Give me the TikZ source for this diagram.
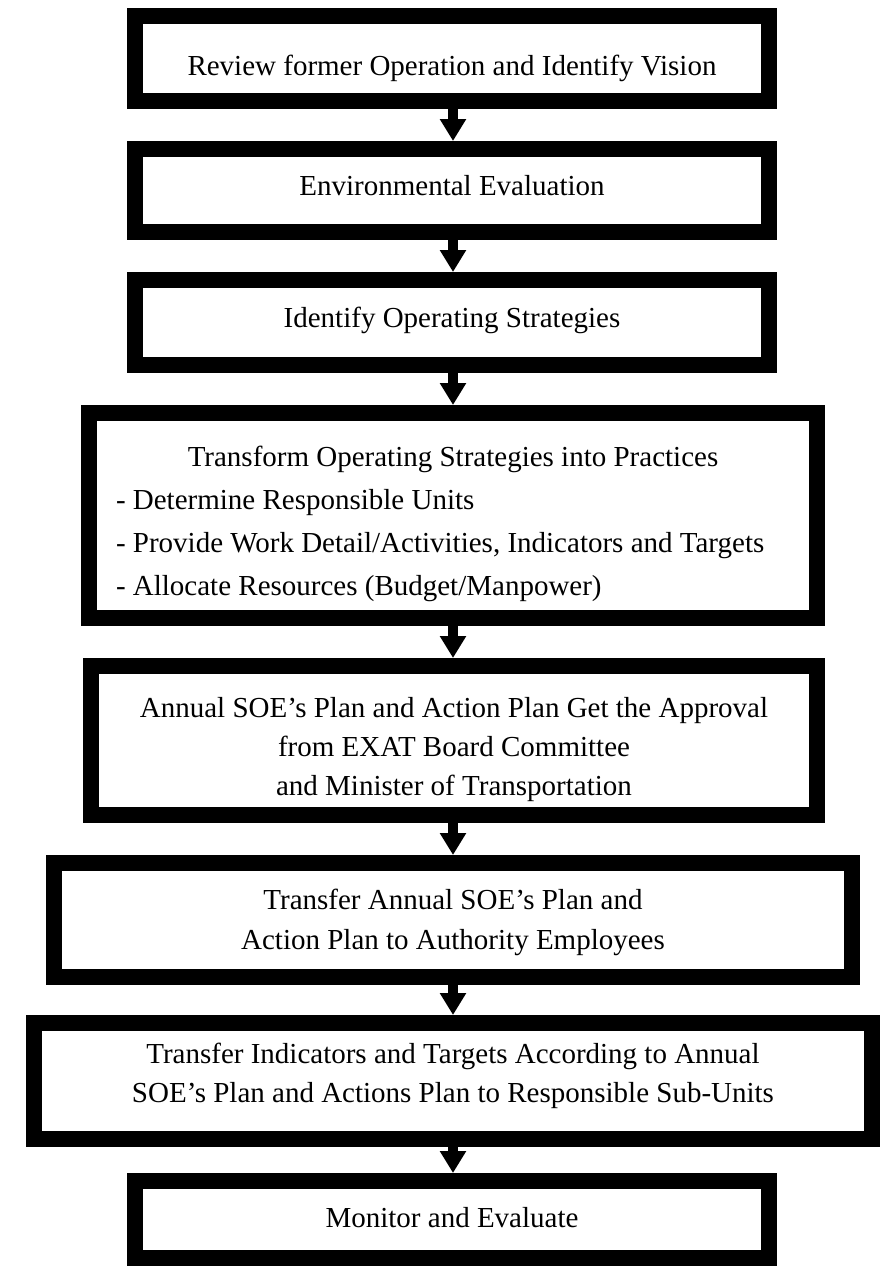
\documentclass[tikz,border=0pt]{standalone}
\usepackage{fontspec}
\setmainfont{Liberation Serif}
\usetikzlibrary{arrows.meta}
\begin{document}
\begin{tikzpicture}[x=1pt,y=1pt,
  stepbox/.style={draw=black, line width=16pt, fill=white, rectangle, inner sep=0pt},
  steptext/.style={anchor=base, inner sep=0pt},
  flow/.style={line width=10pt, -{Triangle[width=25pt,length=22pt]}}]
\useasboundingbox[fill=white] (0,0) rectangle (882,-1267);

% frames of the process steps (minimum size = outer size minus the border width)
\node[stepbox, minimum width=634, minimum height=85]  (b1) at (452,-58.5)  {};
\node[stepbox, minimum width=634, minimum height=83]  (b2) at (452,-190.5) {};
\node[stepbox, minimum width=634, minimum height=85]  (b3) at (452,-322.5) {};
\node[stepbox, minimum width=728, minimum height=205] (b4) at (453,-515.5) {};
\node[stepbox, minimum width=726, minimum height=149] (b5) at (454,-740.5) {};
\node[stepbox, minimum width=798, minimum height=114] (b6) at (453,-920)   {};
\node[stepbox, minimum width=838, minimum height=116] (b7) at (453,-1081)  {};
\node[stepbox, minimum width=634, minimum height=77]  (b8) at (452,-1219.5){};

% step texts, placed on the baseline of their first line
\node[steptext, font=\fontsize{29}{40}\selectfont] (t1) at (452,-75)
  {Review former Operation and Identify Vision};
\node[steptext, font=\fontsize{29}{40}\selectfont] (t2) at (452,-195)
  {Environmental Evaluation};
\node[steptext, font=\fontsize{29}{40}\selectfont] (t3) at (452,-327)
  {Identify Operating Strategies};
\node[steptext, font=\fontsize{29}{43}\selectfont] (t4) at (453,-466)
  {\begin{tabular}[t]{@{}p{674pt}@{}}
   \multicolumn{1}{@{}c@{}}{Transform Operating Strategies into Practices}\\
   - Determine Responsible Units\\
   - Provide Work Detail/Activities, Indicators and Targets\\
   - Allocate Resources (Budget/Manpower)
   \end{tabular}};
\node[steptext, font=\fontsize{29}{39}\selectfont] (t5) at (454,-717)
  {\begin{tabular}[t]{@{}c@{}}
   Annual SOE’s Plan and Action Plan Get the Approval\\
   from EXAT Board Committee\\
   and Minister of Transportation
   \end{tabular}};
\node[steptext, font=\fontsize{29}{40}\selectfont] (t6) at (453,-909)
  {\begin{tabular}[t]{@{}c@{}}
   Transfer Annual SOE’s Plan and\\
   Action Plan to Authority Employees
   \end{tabular}};
\node[steptext, font=\fontsize{29}{39}\selectfont] (t7) at (453,-1063)
  {\begin{tabular}[t]{@{}c@{}}
   Transfer Indicators and Targets According to Annual\\
   SOE’s Plan and Actions Plan to Responsible Sub-Units
   \end{tabular}};
\node[steptext, font=\fontsize{29}{40}\selectfont] (t8) at (452,-1227)
  {Monitor and Evaluate};

% connectors between consecutive steps
\foreach \a/\b in {b1/b2,b2/b3,b3/b4,b4/b5,b5/b6,b6/b7,b7/b8}
  \draw[flow] (\a.south -| 453,0) -- (\b.north -| 453,0);
\end{tikzpicture}
\end{document}
